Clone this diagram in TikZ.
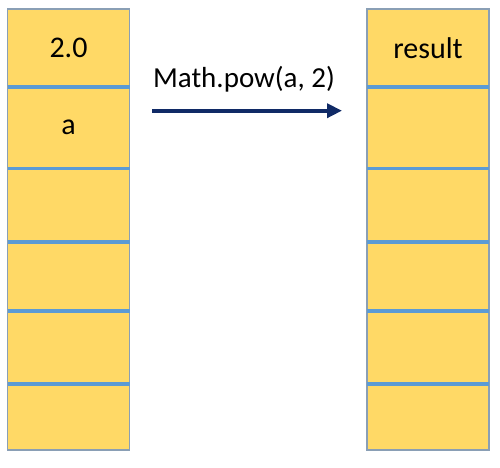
\documentclass[tikz,border=0pt]{standalone}
\usepackage{fontspec}
\setmainfont{Carlito}
\usetikzlibrary{arrows.meta}
\definecolor{cellfill}{HTML}{FFD966}
\definecolor{sepblue}{HTML}{5B9BD5}
\definecolor{edgecol}{HTML}{8A9FB5}
\definecolor{navy}{HTML}{102A66}
\begin{document}
\begin{tikzpicture}[x=1pt,y=-1pt,
  cell/.style={fill=cellfill, inner sep=0pt, outer sep=0pt, minimum width=122pt,
    font=\fontsize{30}{32}\selectfont},
  border/.style={draw=edgecol, line width=1.3pt},
  sep/.style={draw=sepblue, line width=3.2pt},
  callarrow/.style={draw=navy, line width=3.6pt, -{Triangle[length=15pt,width=14pt]}},
  lbl/.style={font=\fontsize{29}{31}\selectfont, inner sep=0pt}]
\useasboundingbox (0,0) rectangle (500,467);
% left column
\node[cell, minimum height=78pt]   (L1) at (68.5,48)     {2.0};
\node[cell, minimum height=81.5pt] (L2) at (68.5,127.75) {a};
\node[cell, minimum height=73.5pt] (L3) at (68.5,205.25) {};
\node[cell, minimum height=69pt]   (L4) at (68.5,276.5)  {};
\node[cell, minimum height=73pt]   (L5) at (68.5,347.5)  {};
\node[cell, minimum height=66pt]   (L6) at (68.5,417)    {};
% right column
\node[cell, minimum height=78pt]   (R1) at (428,48)     {result};
\node[cell, minimum height=81.5pt] (R2) at (428,127.75) {};
\node[cell, minimum height=73.5pt] (R3) at (428,205.25) {};
\node[cell, minimum height=69pt]   (R4) at (428,276.5)  {};
\node[cell, minimum height=73pt]   (R5) at (428,347.5)  {};
\node[cell, minimum height=66pt]   (R6) at (428,417)    {};
% borders
\draw[border] (L1.north west) rectangle (L6.south east);
\draw[border] (R1.north west) rectangle (R6.south east);
\foreach \c in {L,R}{
  \foreach \i in {1,...,5}{
    \draw[sep] (\c\i.south west) -- (\c\i.south east);
  }
}
% arrow and label
\coordinate (as) at (152,110.7);
\coordinate (ae) at (342,110.7);
\draw[callarrow] (as) -- (ae);
\node[lbl, anchor=base] (call) at (244,87) {Math.pow(a, 2)};
\end{tikzpicture}
\end{document}
